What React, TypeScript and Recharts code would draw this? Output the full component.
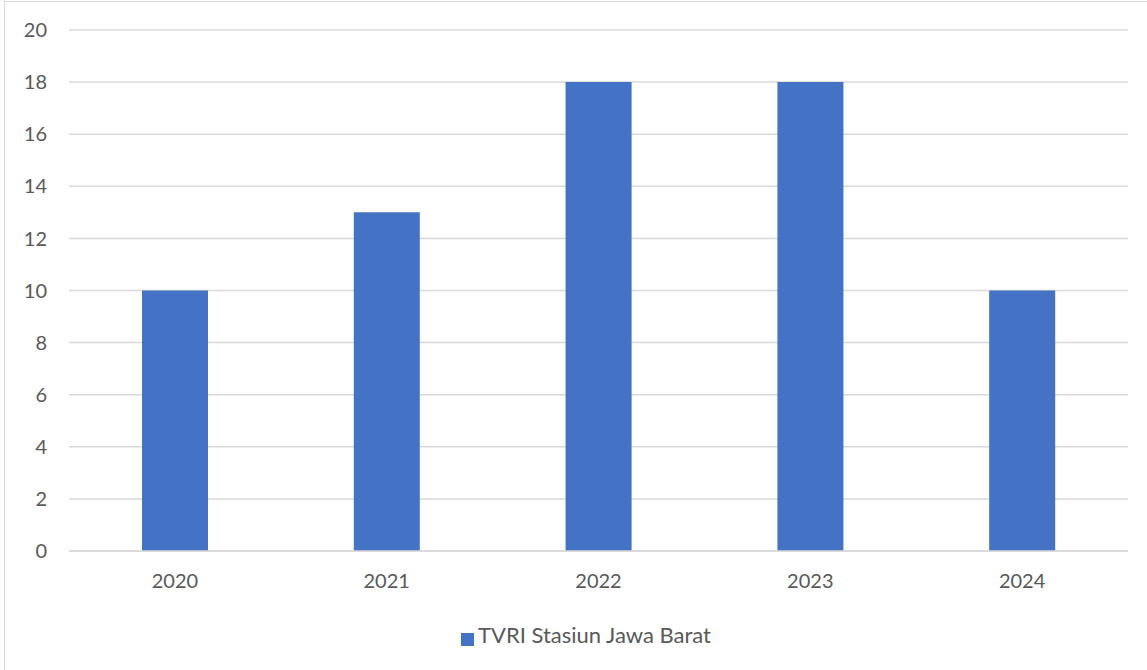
import { BarChart, Bar, XAxis, YAxis, CartesianGrid, Legend } from "recharts";

const years = ["2020", "2021", "2022", "2023", "2024"];
const counts = [10, 13, 18, 18, 10];
const yTicks = [0, 2, 4, 6, 8, 10, 12, 14, 16, 18, 20];

const rows = years.map((year, i) => ({ year, value: counts[i] }));

const FONT = "Lato, 'Open Sans', sans-serif";
const TICK = { fill: "#595959", fontSize: 20, fontFamily: FONT };

export default function App() {
  return (
    <div style={{ position: "absolute", left: 0, top: 0, width: 1147, height: 670, background: "#fff", overflow: "hidden" }}>
      {/* frame of the chart area, right and bottom edges fall off the page */}
      <div style={{ position: "absolute", left: 4, top: 1, width: 1200, height: 720, borderLeft: "1px solid #d9d9d9", borderTop: "1px solid #d9d9d9" }} />
      <div style={{ position: "absolute", left: 0, top: 0 }}>
        <BarChart width={1147} height={670} data={rows} margin={{ top: 30, right: 19, left: 0, bottom: 22 }} barSize={66}>
          <CartesianGrid vertical={false} stroke="#d9d9d9" strokeWidth={1.5} />
          <XAxis dataKey="year" tick={TICK} axisLine={{ stroke: "#d9d9d9", strokeWidth: 1.5 }} tickLine={false} tickSize={0} tickMargin={23} height={70} />
          <YAxis domain={[0, 20]} ticks={yTicks} tick={TICK} axisLine={false} tickLine={false} tickSize={0} tickMargin={22} width={69} interval={0} />
          <Legend
            verticalAlign="bottom"
            align="left"
            wrapperStyle={{ left: 461, width: "auto" }}
            iconType="square"
            iconSize={13}
            formatter={(v) => <span style={{ color: "#595959", fontSize: 22, fontFamily: FONT }}>{v}</span>}
          />
          <Bar dataKey="value" name="TVRI Stasiun Jawa Barat" fill="#4472C4" isAnimationActive={false} />
        </BarChart>
      </div>
    </div>
  );
}
